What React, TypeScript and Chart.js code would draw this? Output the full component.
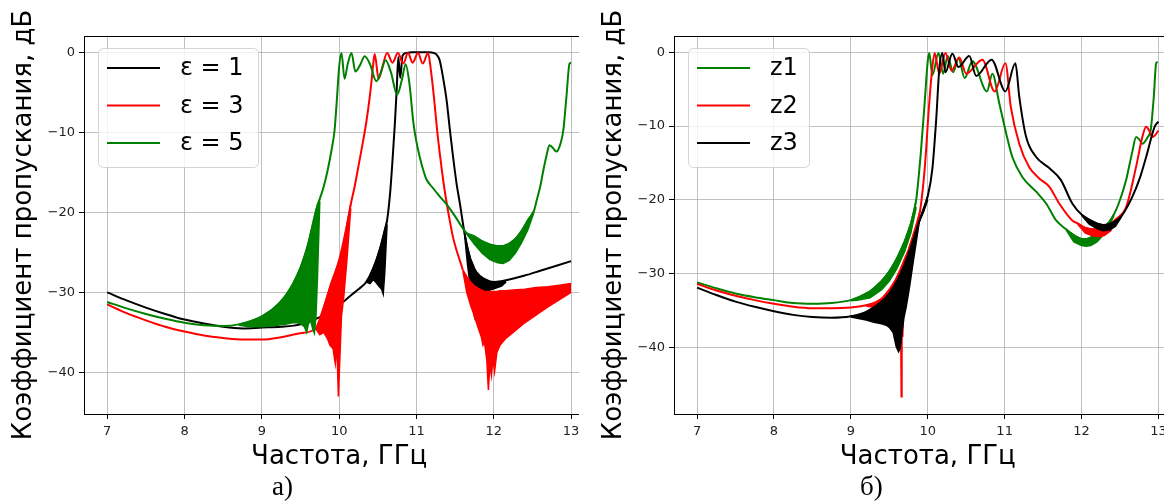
import React, { useEffect, useRef } from 'react';
import { Chart, registerables } from 'chart.js';

Chart.register(...registerables);

// ================= LEFT PANEL (а): ε = 1, 3, 5 =================
const epsOneFreq = [7.0, 7.25, 7.5, 7.75, 8.0, 8.25, 8.5, 8.75, 9.0, 9.25, 9.5, 9.75, 10.0, 10.1, 10.2, 10.3, 10.35, 10.44, 10.52, 10.59, 10.62, 10.66, 10.69, 10.72, 10.745, 10.765, 10.79, 10.82, 10.86, 10.95, 11.05, 11.15, 11.23, 11.27, 11.3, 11.35, 11.39, 11.43, 11.47, 11.52, 11.56, 11.62, 11.7, 11.8, 11.9, 12.0, 12.1, 12.2, 12.4, 12.6, 12.8, 13.0];
const epsOneDb = [-30.0, -31.0, -31.9, -32.7, -33.4, -33.9, -34.3, -34.5, -34.4, -34.3, -34.0, -33.1, -31.6, -30.8, -30.0, -29.2, -28.7, -27.0, -24.8, -22.2, -21.0, -17.5, -13.5, -9.0, -4.5, -0.6, -3.2, -0.4, -0.1, 0.0, 0.0, 0.0, -0.1, -0.4, -1.0, -3.5, -6.0, -9.5, -12.8, -16.5, -18.8, -22.5, -26.0, -27.9, -28.5, -28.7, -28.6, -28.4, -27.9, -27.3, -26.7, -26.1];
const epsOneBandAFreq = [10.35, 10.40, 10.44, 10.48, 10.52, 10.55, 10.57, 10.59, 10.62];
const epsOneBandAHi = [-28.7, -27.9, -27.0, -26.0, -24.8, -23.8, -23.0, -22.2, -21.0];
const epsOneBandALo = [-28.7, -28.9, -28.4, -28.8, -29.3, -29.6, -30.2, -27.5, -21.5];
const epsOneBandBFreq = [11.62, 11.66, 11.70, 11.73, 11.75, 11.78, 11.82, 11.88, 11.95, 12.02, 12.10, 12.16];
const epsOneBandBHi = [-22.5, -24.4, -25.8, -26.5, -27.0, -27.5, -27.9, -28.3, -28.6, -28.7, -28.6, -28.5];
const epsOneBandBLo = [-22.6, -26.5, -29.5, -31.5, -33.0, -31.5, -30.5, -30.0, -29.7, -29.5, -29.2, -28.7];

const epsThreeFreq = [7.0, 7.25, 7.5, 7.75, 8.0, 8.25, 8.5, 8.75, 9.0, 9.25, 9.5, 9.7, 9.8, 9.9, 10.0, 10.1, 10.15, 10.2, 10.25, 10.3, 10.35, 10.39, 10.42, 10.44, 10.46, 10.51, 10.56, 10.62, 10.69, 10.76, 10.83, 10.89, 10.95, 11.02, 11.08, 11.15, 11.19, 11.23, 11.27, 11.31, 11.35, 11.39, 11.43, 11.47, 11.52, 11.56, 11.6];
const epsThreeDb = [-31.5, -32.6, -33.5, -34.3, -34.9, -35.4, -35.7, -35.9, -35.9, -35.6, -35.1, -34.5, -31.9, -28.8, -26.0, -21.6, -19.0, -16.8, -14.2, -11.6, -8.8, -6.0, -3.5, -1.5, -0.2, -3.3, -1.8, -0.1, -1.3, -0.1, -1.4, -0.1, -1.3, -0.1, -1.4, -0.1, -2.5, -6.0, -10.0, -13.3, -16.3, -18.8, -21.0, -23.0, -24.8, -26.0, -27.2];
const epsThreeBandAFreq = [9.70, 9.75, 9.80, 9.85, 9.88, 9.92, 9.95, 9.97, 9.99, 10.01, 10.03, 10.06, 10.10, 10.15];
const epsThreeBandAHi = [-34.5, -33.3, -31.9, -30.3, -29.4, -28.2, -27.5, -26.9, -26.3, -25.7, -25.0, -24.0, -21.6, -19.0];
const epsThreeBandALo = [-34.6, -35.3, -35.0, -35.8, -36.6, -37.0, -38.9, -36.5, -43.0, -38.0, -33.0, -30.5, -26.0, -19.5];
const epsThreeBandBFreq = [11.60, 11.65, 11.70, 11.75, 11.80, 11.84, 11.86, 11.88, 11.91, 11.93, 11.95, 11.97, 11.99, 12.01, 12.04, 12.08, 12.15, 12.25, 12.40, 12.55, 12.70, 12.85, 13.00];
const epsThreeBandBHi = [-27.2, -28.0, -28.7, -29.2, -29.5, -29.7, -29.8, -29.9, -29.9, -29.9, -29.9, -29.9, -29.9, -29.9, -29.9, -29.8, -29.8, -29.7, -29.6, -29.4, -29.3, -29.1, -28.9];
const epsThreeBandBLo = [-27.3, -30.0, -31.6, -33.0, -34.5, -35.6, -36.6, -36.2, -38.5, -42.2, -39.0, -40.4, -38.2, -39.9, -37.5, -36.6, -35.8, -35.0, -33.8, -32.8, -31.8, -30.9, -30.0];

const epsFiveFreq = [7.0, 7.25, 7.5, 7.75, 8.0, 8.25, 8.5, 8.7, 9.0, 9.3, 9.5, 9.6, 9.7, 9.75, 9.8, 9.85, 9.9, 9.94, 9.97, 10.0, 10.03, 10.07, 10.11, 10.16, 10.21, 10.27, 10.33, 10.40, 10.48, 10.54, 10.60, 10.67, 10.75, 10.81, 10.86, 10.91, 10.96, 11.0, 11.04, 11.09, 11.13, 11.2, 11.3, 11.39, 11.5, 11.6, 11.65, 11.75, 11.85, 11.95, 12.05, 12.12, 12.2, 12.28, 12.36, 12.44, 12.52, 12.56, 12.6, 12.64, 12.68, 12.72, 12.76, 12.81, 12.86, 12.9, 12.94, 12.98, 13.0];
const epsFiveDb = [-31.2, -32.0, -32.7, -33.3, -33.8, -34.1, -34.2, -34.0, -33.0, -30.5, -26.9, -23.9, -19.8, -18.3, -16.8, -14.8, -12.3, -9.8, -6.0, -1.8, -0.1, -3.3, -1.5, -0.1, -2.4, -1.6, -0.5, -1.5, -3.6, -2.5, -1.0, -2.5, -5.3, -3.5, -1.5, -4.0, -8.8, -11.2, -13.0, -14.8, -15.9, -16.8, -18.0, -19.0, -20.5, -22.0, -22.6, -23.0, -23.6, -24.0, -24.2, -24.2, -23.9, -23.3, -22.3, -21.0, -19.8, -18.3, -16.8, -14.8, -13.0, -11.6, -11.9, -12.4, -11.5, -9.7, -5.5, -1.4, -1.3];
const epsFiveBandAFreq = [8.70, 8.85, 9.00, 9.10, 9.20, 9.30, 9.40, 9.45, 9.50, 9.55, 9.58, 9.60, 9.63, 9.66, 9.68, 9.70, 9.72, 9.75];
const epsFiveBandAHi = [-34.0, -33.6, -33.0, -32.4, -31.6, -30.5, -29.0, -28.0, -26.9, -25.5, -24.6, -23.9, -22.6, -21.5, -20.7, -19.8, -19.0, -18.3];
const epsFiveBandALo = [-34.1, -34.3, -34.3, -34.2, -34.1, -34.0, -33.8, -33.8, -33.9, -34.3, -35.0, -34.0, -33.5, -34.6, -35.1, -33.0, -28.0, -18.6];
const epsFiveBandBFreq = [11.65, 11.75, 11.85, 11.95, 12.05, 12.12, 12.20, 12.28, 12.36, 12.44, 12.52];
const epsFiveBandBHi = [-22.6, -23.0, -23.6, -24.0, -24.2, -24.2, -23.9, -23.3, -22.3, -21.0, -19.8];
const epsFiveBandBLo = [-22.7, -24.0, -25.1, -25.9, -26.3, -26.4, -26.0, -25.1, -23.8, -22.2, -20.0];

// ================= RIGHT PANEL (б): z1, z2, z3 =================
const z1Freq = [7.0, 7.25, 7.5, 7.75, 8.0, 8.25, 8.5, 8.75, 9.0, 9.1, 9.25, 9.4, 9.5, 9.6, 9.7, 9.78, 9.85, 9.91, 9.96, 10.0, 10.02, 10.06, 10.14, 10.2, 10.26, 10.33, 10.40, 10.48, 10.58, 10.77, 10.84, 10.93, 11.02, 11.1, 11.23, 11.41, 11.54, 11.67, 11.8, 11.9, 12.0, 12.06, 12.12, 12.2, 12.28, 12.36, 12.42, 12.48, 12.58, 12.66, 12.71, 12.75, 12.79, 12.86, 12.9, 12.94, 12.97, 12.99];
const z1Db = [-31.2, -32.0, -32.7, -33.2, -33.6, -34.0, -34.1, -34.0, -33.6, -33.2, -32.4, -31.0, -29.7, -27.9, -25.6, -23.2, -20.0, -13.6, -6.8, -1.2, -0.1, -3.1, -0.1, -2.9, -0.5, -2.7, -0.8, -3.5, -1.2, -5.3, -2.9, -6.9, -11.0, -14.2, -16.9, -18.9, -20.5, -22.8, -24.0, -24.8, -25.3, -25.3, -25.1, -24.6, -23.9, -23.0, -22.0, -20.6, -17.3, -13.5, -11.5, -11.8, -12.4, -11.5, -10.5, -6.0, -1.5, -1.3];
const z1BandAFreq = [9.00, 9.10, 9.25, 9.40, 9.50, 9.60, 9.70, 9.78, 9.85];
const z1BandAHi = [-33.6, -33.2, -32.4, -31.0, -29.7, -27.9, -25.6, -23.2, -20.0];
const z1BandALo = [-33.7, -33.6, -33.3, -32.2, -31.0, -29.3, -27.0, -24.5, -21.0];
const z1BandBFreq = [11.80, 11.90, 12.00, 12.06, 12.12, 12.20, 12.28, 12.36, 12.42];
const z1BandBHi = [-24.0, -24.8, -25.3, -25.3, -25.1, -24.6, -23.9, -23.0, -22.0];
const z1BandBLo = [-24.1, -25.7, -26.2, -26.3, -26.2, -25.7, -24.8, -23.5, -22.2];

const z2Freq = [7.0, 7.25, 7.5, 7.75, 8.0, 8.25, 8.5, 8.75, 9.0, 9.2, 9.3, 9.4, 9.5, 9.58, 9.65, 9.69, 9.75, 9.82, 9.9, 9.96, 10.02, 10.06, 10.09, 10.15, 10.23, 10.31, 10.41, 10.5, 10.71, 10.87, 11.01, 11.08, 11.19, 11.32, 11.45, 11.58, 11.71, 11.88, 11.95, 12.05, 12.15, 12.23, 12.3, 12.38, 12.45, 12.58, 12.71, 12.79, 12.84, 12.88, 12.92, 12.96, 13.0];
const z2Db = [-31.4, -32.3, -33.0, -33.6, -34.1, -34.5, -34.7, -34.7, -34.6, -34.3, -34.0, -33.4, -32.2, -30.9, -29.3, -28.3, -26.8, -24.5, -21.5, -15.8, -6.8, -2.0, -0.1, -2.9, -0.1, -2.5, -0.7, -2.9, -1.0, -5.3, -1.5, -7.4, -12.4, -15.6, -17.1, -18.2, -20.5, -22.8, -23.2, -23.8, -24.0, -24.0, -23.8, -23.3, -22.6, -21.0, -15.5, -11.5, -10.1, -10.6, -11.5, -11.2, -10.6];
const z2BandAFreq = [9.20, 9.30, 9.40, 9.50, 9.58, 9.63, 9.645, 9.655, 9.665, 9.675, 9.69, 9.75, 9.82, 9.90];
const z2BandAHi = [-34.3, -34.0, -33.4, -32.2, -30.9, -29.8, -29.5, -29.3, -29.1, -28.9, -28.3, -26.8, -24.5, -21.5];
const z2BandALo = [-34.4, -34.6, -34.3, -33.4, -32.4, -31.5, -31.3, -46.7, -31.0, -38.6, -30.5, -28.0, -25.5, -22.3];
const z2BandBFreq = [11.95, 12.05, 12.15, 12.23, 12.30, 12.38, 12.45];
const z2BandBHi = [-23.2, -23.8, -24.0, -24.0, -23.8, -23.3, -22.6];
const z2BandBLo = [-23.3, -24.5, -24.9, -25.0, -24.8, -24.2, -22.7];

const z3Freq = [7.0, 7.25, 7.5, 7.75, 8.0, 8.25, 8.5, 8.75, 9.0, 9.2, 9.4, 9.5, 9.6, 9.7, 9.8, 9.9, 10.0, 10.06, 10.11, 10.15, 10.19, 10.23, 10.32, 10.40, 10.54, 10.63, 10.83, 11.01, 11.14, 11.19, 11.28, 11.41, 11.58, 11.73, 11.88, 12.0, 12.1, 12.2, 12.28, 12.36, 12.44, 12.52, 12.66, 12.76, 12.84, 12.95, 13.0];
const z3Db = [-31.9, -32.9, -33.8, -34.5, -35.1, -35.6, -35.9, -36.0, -35.8, -35.2, -33.8, -32.7, -31.0, -28.7, -25.8, -22.6, -19.5, -15.8, -9.1, -2.3, -0.1, -2.7, -0.2, -2.0, -0.5, -3.2, -1.0, -5.3, -1.5, -6.0, -11.5, -14.2, -15.7, -17.3, -20.5, -22.0, -22.7, -23.2, -23.4, -23.3, -22.9, -22.2, -19.6, -17.0, -14.2, -10.1, -9.4];
const z3BandAFreq = [9.00, 9.10, 9.20, 9.30, 9.40, 9.46, 9.50, 9.55, 9.59, 9.62, 9.64, 9.66, 9.69, 9.72, 9.76, 9.81, 9.89, 9.95, 10.00];
const z3BandAHi = [-35.8, -35.6, -35.2, -34.6, -33.8, -33.2, -32.7, -31.9, -31.2, -30.7, -30.3, -29.9, -29.2, -28.4, -27.3, -25.5, -22.8, -21.0, -19.5];
const z3BandALo = [-35.9, -36.1, -36.3, -36.6, -36.8, -37.0, -37.3, -38.0, -39.9, -40.6, -40.2, -38.5, -36.0, -34.5, -32.0, -28.5, -23.0, -21.5, -20.0];
const z3BandBFreq = [12.00, 12.10, 12.20, 12.28, 12.36, 12.44, 12.52];
const z3BandBHi = [-22.0, -22.7, -23.2, -23.4, -23.3, -22.9, -22.2];
const z3BandBLo = [-22.1, -23.3, -23.9, -24.2, -24.1, -23.6, -22.3];

// ================= labels =================
const leftLegendLabels = ['ε = 1', 'ε = 3', 'ε = 5'];
const rightLegendLabels = ['z1', 'z2', 'z3'];
const xTitle = 'Частота, ГГц';
const yTitle = 'Коэффициент пропускания, дБ';
const xTickStep = 1;
const yTickStep = 10;

const BLACK = '#000000';
const RED = '#ff0000';
const GREEN = '#008000';
const FONT = "'DejaVu Sans', sans-serif";

const pts = (xs: number[], ys: number[]) => xs.map((x, i) => ({ x, y: ys[i] }));

function curve(xs: number[], ys: number[], color: string, order: number) {
  return {
    data: pts(xs, ys),
    borderColor: color,
    backgroundColor: color,
    borderWidth: 2,
    pointRadius: 0,
    fill: false,
    cubicInterpolationMode: 'monotone',
    order,
  };
}

function band(xs: number[], hi: number[], lo: number[], color: string, order: number) {
  return [
    { data: pts(xs, lo), borderColor: color, backgroundColor: color, borderWidth: 1.5, pointRadius: 0, fill: false, tension: 0, order },
    { data: pts(xs, hi), borderColor: color, backgroundColor: color, borderWidth: 1.5, pointRadius: 0, fill: '-1', tension: 0, order },
  ];
}

const topSpine = {
  id: 'topSpine',
  afterDatasetsDraw(chart: any) {
    const { ctx, chartArea: a } = chart;
    ctx.save();
    ctx.strokeStyle = '#000';
    ctx.lineWidth = 1;
    ctx.beginPath();
    ctx.moveTo(a.left, Math.round(a.top) + 0.5);
    ctx.lineTo(a.right, Math.round(a.top) + 0.5);
    ctx.stroke();
    ctx.restore();
  },
};

function makeLegend(labels: string[], colors: string[], width: number) {
  return {
    id: 'mplLegend',
    afterDraw(chart: any) {
      const { ctx, chartArea: a } = chart;
      const x = Math.round(a.left) + 14;
      const y = Math.round(a.top) + 12;
      const h = 119;
      ctx.save();
      ctx.beginPath();
      ctx.roundRect(x + 0.5, y + 0.5, width, h, 5);
      ctx.fillStyle = 'rgba(255,255,255,0.8)';
      ctx.fill();
      ctx.strokeStyle = 'rgba(204,204,204,0.85)';
      ctx.lineWidth = 1;
      ctx.stroke();
      ctx.font = `24px ${FONT}`;
      ctx.textBaseline = 'middle';
      ctx.textAlign = 'left';
      labels.forEach((label, i) => {
        const ry = y + 20 + i * 37.5;
        ctx.strokeStyle = colors[i];
        ctx.lineWidth = 2;
        ctx.beginPath();
        ctx.moveTo(x + 9, ry);
        ctx.lineTo(x + 62, ry);
        ctx.stroke();
        ctx.fillStyle = '#000';
        ctx.fillText(label, x + 82, ry + 1);
      });
      ctx.restore();
    },
  };
}

const minusFmt = (v: any) => String(v).replace('-', '\u2212');

function buildConfig(datasets: any[], yMin: number, yMax: number, padRight: number, legend: any) {
  const tickFont = { family: FONT, size: 13 };
  const titleFont = { family: FONT, size: 26 };
  const grid = { color: '#b0b0b0', lineWidth: 0.8, tickLength: 5, tickColor: '#000', tickWidth: 1 };
  return {
    type: 'line',
    data: { datasets },
    options: {
      responsive: false,
      animation: false,
      events: [],
      layout: { padding: { left: 0, top: 36, right: padRight, bottom: 3 } },
      plugins: { legend: { display: false }, tooltip: { enabled: false } },
      scales: {
        x: {
          type: 'linear',
          min: 6.7,
          max: 13.3,
          ticks: { stepSize: xTickStep, includeBounds: false, autoSkip: false, maxRotation: 0, font: tickFont, color: '#222', padding: 5, callback: minusFmt },
          grid,
          border: { color: '#000', width: 1 },
          title: { display: true, text: xTitle, font: titleFont, color: '#000', padding: 0 },
          afterFit: (s: any) => { s.height = 59; s.paddingLeft = 0; s.paddingRight = 0; },
        },
        y: {
          type: 'linear',
          min: yMin,
          max: yMax,
          ticks: { stepSize: yTickStep, includeBounds: false, font: tickFont, color: '#222', padding: 4, callback: minusFmt },
          grid,
          border: { color: '#000', width: 1 },
          title: { display: true, text: yTitle, font: titleFont, color: '#000', padding: { top: 9, bottom: 0 } },
          afterFit: (s: any) => { s.width = 84; s.paddingTop = 0; s.paddingBottom = 0; },
        },
      },
    },
    plugins: [topSpine, legend],
  };
}

function buildLeft() {
  const datasets = [
    curve(epsOneFreq, epsOneDb, BLACK, 3),
    ...band(epsOneBandAFreq, epsOneBandAHi, epsOneBandALo, BLACK, 3),
    ...band(epsOneBandBFreq, epsOneBandBHi, epsOneBandBLo, BLACK, 3),
    curve(epsThreeFreq, epsThreeDb, RED, 2),
    ...band(epsThreeBandAFreq, epsThreeBandAHi, epsThreeBandALo, RED, 2),
    ...band(epsThreeBandBFreq, epsThreeBandBHi, epsThreeBandBLo, RED, 2),
    curve(epsFiveFreq, epsFiveDb, GREEN, 1),
    ...band(epsFiveBandAFreq, epsFiveBandAHi, epsFiveBandALo, GREEN, 1),
    ...band(epsFiveBandBFreq, epsFiveBandBHi, epsFiveBandBLo, GREEN, 1),
  ];
  return buildConfig(datasets, -45.2, 2.04, 5.7, makeLegend(leftLegendLabels, [BLACK, RED, GREEN], 160));
}

function buildRight() {
  const datasets = [
    curve(z1Freq, z1Db, GREEN, 3),
    ...band(z1BandAFreq, z1BandAHi, z1BandALo, GREEN, 3),
    ...band(z1BandBFreq, z1BandBHi, z1BandBLo, GREEN, 3),
    curve(z2Freq, z2Db, RED, 2),
    ...band(z2BandAFreq, z2BandAHi, z2BandALo, RED, 2),
    ...band(z2BandBFreq, z2BandBHi, z2BandBLo, RED, 2),
    curve(z3Freq, z3Db, BLACK, 1),
    ...band(z3BandAFreq, z3BandAHi, z3BandALo, BLACK, 1),
    ...band(z3BandBFreq, z3BandBHi, z3BandBLo, BLACK, 1),
  ];
  return buildConfig(datasets, -49.04, 2.21, 8.5, makeLegend(rightLegendLabels, [GREEN, RED, BLACK], 121));
}

function Panel({ left, clip, build }: { left: number; clip: number; build: () => any }) {
  const ref = useRef<HTMLCanvasElement>(null);
  useEffect(() => {
    const chart = new Chart(ref.current as HTMLCanvasElement, build());
    return () => chart.destroy();
  }, []);
  return (
    <div style={{ position: 'absolute', left, top: 0, width: clip, height: 476, overflow: 'hidden' }}>
      <canvas ref={ref} width={600} height={476} style={{ display: 'block', width: 600, height: 476 }} />
    </div>
  );
}

const captionStyle: React.CSSProperties = {
  position: 'absolute',
  top: 473,
  fontFamily: "'Liberation Serif', 'Times New Roman', serif",
  fontSize: 27,
  lineHeight: '27px',
  color: '#000',
  whiteSpace: 'nowrap',
};

export default function App() {
  return (
    <div style={{ position: 'absolute', left: 0, top: 0, width: 1164, height: 502, overflow: 'hidden', background: '#fff' }}>
      <Panel left={0} clip={579} build={buildLeft} />
      <Panel left={590} clip={574} build={buildRight} />
      <div style={{ ...captionStyle, left: 272 }}>а)</div>
      <div style={{ ...captionStyle, left: 860 }}>б)</div>
    </div>
  );
}
